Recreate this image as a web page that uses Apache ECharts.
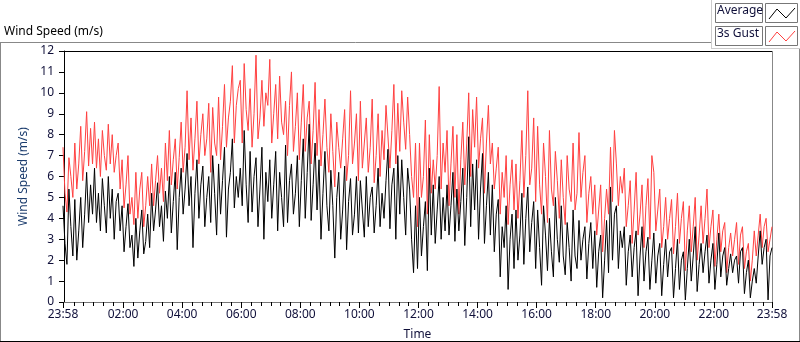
<!DOCTYPE html>
<html>
<head>
<meta charset="utf-8">
<script src="https://cdn.jsdelivr.net/npm/echarts@6/dist/echarts.min.js"></script>
<style>
html, body { margin: 0; padding: 0; background: #fff; }
#main { width: 800px; height: 342px; }
</style>
</head>
<body>
<div id="main"></div>
<script>
// wind speed, one reading every 4 min starting 23:58 (m/s)
// one row per hour
var avgWind = [
  4.6, 2.8, 1.8, 5.4, 3.6, 2.2, 4.9, 2.0, 3.4, 5.0, 2.6, 4.2, 6.2, 3.8, 5.6,
  4.2, 6.4, 3.8, 5.2, 3.4, 5.9, 4.6, 3.3, 6.0, 4.0, 5.4, 3.0, 4.8, 5.2, 3.4,
  4.6, 2.4, 3.6, 4.7, 2.6, 3.2, 1.7, 4.0, 2.1, 3.4, 4.4, 2.3, 2.9, 4.2, 2.6,
  5.2, 3.4, 4.4, 5.7, 3.6, 4.6, 2.9, 5.3, 4.0, 6.0, 3.3, 4.8, 6.2, 2.5, 5.0,
  6.4, 4.2, 5.4, 7.1, 4.6, 6.0, 2.6, 5.2, 6.8, 4.0, 5.6, 6.5, 3.6, 5.0, 6.0,
  3.8, 7.0, 5.2, 3.2, 6.6, 4.2, 5.8, 7.4, 3.1, 5.4, 6.2, 7.8, 4.5, 6.0, 5.0,
  6.4, 4.6, 8.2, 5.6, 3.8, 7.2, 4.3, 6.0, 6.9, 3.6, 5.4, 7.4, 3.0, 6.2, 4.8,
  6.8, 4.0, 5.6, 7.2, 3.4, 6.2, 5.0, 3.6, 7.5, 3.8, 5.8, 6.6, 4.2, 5.2, 7.0,
  3.6, 5.8, 7.8, 4.0, 6.2, 8.5, 3.9, 5.6, 7.6, 4.4, 6.8, 3.0, 5.2, 7.2, 4.6,
  3.4, 6.3, 4.6, 2.1, 5.0, 6.2, 3.0, 4.4, 6.5, 2.5, 4.8, 5.9, 3.2, 4.2, 6.0,
  3.3, 5.8, 4.4, 3.1, 6.0, 3.6, 5.0, 5.5, 3.3, 4.6, 6.4, 3.6, 5.2, 4.0, 5.8,
  7.3, 3.5, 5.6, 6.4, 3.0, 7.0, 4.2, 6.8, 5.0, 3.2, 6.4, 5.4, 3.0, 1.4, 4.6,
  1.6, 5.0, 2.2, 3.6, 4.8, 1.5, 6.4, 3.2, 5.6, 2.8, 4.4, 6.0, 3.0, 5.0, 3.4,
  5.6, 3.2, 4.6, 6.2, 2.9, 5.4, 3.4, 4.8, 6.4, 2.7, 5.0, 7.9, 3.6, 6.6, 4.4,
  6.8, 3.0, 5.4, 7.1, 2.8, 4.6, 6.2, 3.2, 5.6, 2.4, 4.2, 4.9, 1.2, 3.6, 2.6,
  4.6, 0.6, 3.0, 4.2, 1.6, 4.4, 2.0, 3.2, 5.2, 1.8, 4.0, 5.5, 2.4, 3.8, 4.8,
  1.6, 4.4, 2.6, 0.8, 4.6, 3.2, 1.5, 4.0, 2.4, 1.2, 5.0, 3.0, 1.9, 4.6, 2.2,
  1.3, 3.8, 2.6, 1.0, 4.4, 2.2, 1.6, 3.9, 2.0, 3.0, 3.6, 1.1, 2.8, 3.8, 1.6,
  3.4, 0.7, 2.4, 3.2, 0.2, 2.0, 3.9, 1.4, 5.5, 2.0, 4.2, 4.6, 1.6, 3.4, 2.6,
  3.6, 0.8, 2.4, 3.2, 1.2, 2.6, 3.4, 0.3, 2.2, 3.6, 1.0, 2.4, 3.1, 0.6, 2.0,
  3.3, 0.9, 2.2, 2.8, 0.3, 1.8, 3.0, 1.2, 2.4, 2.6, 0.2, 1.6, 3.0, 0.6, 2.0,
  2.4, 0.1, 1.6, 3.0, 1.0, 2.2, 3.6, 0.5, 1.8, 2.8, 1.4, 2.4, 3.2, 0.9, 2.0,
  2.8, 0.6, 1.8, 3.3, 1.2, 2.2, 2.6, 0.8, 1.6, 2.3, 1.4, 2.0, 2.2, 0.9, 2.4,
  2.6, 0.4, 1.4, 2.0, 0.2, 1.0, 1.6, 0.9, 2.2, 3.4, 1.8, 2.6, 3.0, 0.1, 2.2,
  2.6
];
var gustWind = [
  7.4, 5.2, 4.3, 6.9, 6.0, 5.0, 7.6, 5.4, 6.6, 8.4, 5.8, 7.2, 9.1, 6.5, 8.3,
  6.6, 8.6, 6.4, 7.8, 6.0, 8.2, 7.0, 6.3, 8.5, 6.6, 8.0, 6.2, 7.0, 7.6, 5.4,
  6.8, 4.5, 5.6, 7.0, 4.2, 5.0, 3.7, 6.2, 4.0, 5.4, 6.2, 3.6, 4.6, 6.0, 4.6,
  6.6, 4.6, 5.8, 7.0, 5.2, 6.4, 4.8, 7.6, 5.8, 8.2, 5.6, 6.8, 7.8, 5.4, 6.9,
  8.6, 6.2, 7.4, 10.1, 6.8, 8.8, 6.3, 7.8, 9.6, 6.6, 8.0, 9.0, 7.0, 7.8, 9.5,
  6.2, 9.3, 7.6, 7.0, 9.8, 6.8, 8.4, 10.4, 7.4, 8.8, 9.6, 11.3, 7.6, 9.4, 10.2,
  10.6, 7.6, 11.4, 9.2, 8.2, 10.2, 7.4, 9.0, 11.8, 7.8, 8.8, 10.6, 8.4, 10.0, 9.4,
  11.6, 7.6, 9.0, 10.4, 7.8, 10.8, 8.6, 8.0, 9.6, 7.0, 9.4, 11.0, 7.2, 8.4, 10.0,
  6.8, 8.6, 10.4, 7.2, 8.8, 9.6, 6.6, 8.2, 10.5, 7.0, 9.2, 6.5, 8.0, 9.7, 7.4,
  6.2, 9.0, 7.2, 5.5, 8.6, 7.4, 6.4, 7.8, 9.2, 5.8, 7.0, 10.1, 6.6, 7.6, 9.0,
  5.8, 9.6, 6.4, 7.6, 8.8, 6.2, 7.4, 9.7, 5.7, 7.0, 9.0, 6.0, 8.2, 6.8, 9.4,
  9.4, 6.4, 8.2, 10.4, 6.6, 9.5, 7.2, 10.1, 8.6, 7.3, 9.8, 8.0, 6.0, 5.0, 7.6,
  3.6, 7.6, 5.0, 6.0, 8.7, 4.2, 8.0, 5.2, 6.8, 5.4, 7.0, 10.3, 5.4, 7.6, 6.2,
  8.2, 4.6, 6.6, 8.4, 5.0, 8.0, 4.2, 6.8, 8.6, 5.6, 7.6, 10.0, 6.0, 9.2, 7.4,
  9.8, 6.4, 7.8, 8.8, 5.2, 7.6, 9.4, 6.6, 7.6, 5.4, 6.4, 7.4, 4.2, 6.2, 5.0,
  7.0, 3.7, 5.6, 6.8, 4.4, 6.6, 4.0, 5.8, 8.2, 5.0, 7.0, 10.1, 5.6, 6.4, 8.8,
  4.8, 8.4, 5.6, 4.2, 7.6, 6.0, 3.8, 8.2, 5.4, 4.6, 7.2, 5.8, 4.0, 6.8, 5.0,
  3.7, 7.0, 5.4, 4.8, 7.6, 4.4, 5.2, 8.1, 5.0, 6.2, 7.0, 3.8, 5.2, 6.0, 4.2,
  5.6, 3.2, 4.4, 5.6, 2.4, 4.0, 5.4, 4.2, 7.4, 4.8, 8.2, 6.6, 4.6, 6.0, 5.2,
  6.4, 3.6, 4.6, 5.8, 2.8, 4.4, 6.2, 3.2, 4.2, 5.6, 2.6, 4.6, 5.9, 3.0, 7.0,
  6.2, 3.4, 4.4, 5.4, 2.6, 3.6, 5.0, 3.0, 4.0, 4.9, 2.3, 3.6, 5.2, 2.8, 4.0,
  4.8, 1.5, 3.4, 4.6, 2.4, 3.6, 5.0, 2.0, 3.2, 4.6, 2.8, 4.0, 5.4, 2.6, 3.6,
  4.4, 1.7, 3.0, 4.2, 2.4, 3.4, 3.8, 1.4, 2.6, 3.3, 2.2, 3.0, 3.8, 1.8, 3.2,
  3.6, 1.6, 2.4, 2.8, 1.0, 2.0, 3.4, 2.2, 3.2, 4.2, 2.6, 3.6, 4.0, 2.4, 3.0,
  3.6
];
var startMin = -2;   // 23:58 of the previous day
var stepMin = 4;
var labelMins = [-2, 120, 240, 360, 480, 600, 720, 840, 960, 1080, 1200, 1320, 1438];

var times = [];
for (var i = 0; i < avgWind.length; i++) times.push(startMin + i * stepMin);

function pairs(vals) {
  return vals.map(function (v, i) { return [times[i], v]; });
}

var minorMins = [];
for (var m = 20; m < 1438; m += 20) {
  if (m % 120 !== 0) minorMins.push(m);
}

function fmtTime(v) {
  var t = ((v % 1440) + 1440) % 1440;
  var h = Math.floor(t / 60), mm = Math.round(t % 60);
  return (h < 10 ? '0' : '') + h + ':' + (mm < 10 ? '0' : '') + mm;
}

var FONT = 'Noto Sans';
var TXT = '#10103a';

var chartDom = document.getElementById('main');
var myChart = echarts.init(chartDom, null, { renderer: 'canvas' });
var option;

option = {
  animation: false,
  backgroundColor: '#fff',
  textStyle: { fontFamily: FONT },
  grid: { left: 63, right: 28, top: 51, bottom: 40, outerBoundsMode: 'none', containLabel: false },
  xAxis: [{
    type: 'value',
    min: -2,
    max: 1438,
    name: 'Time',
    nameLocation: 'middle',
    nameGap: 27,
    nameTextStyle: { color: TXT, fontSize: 12, fontFamily: FONT },
    axisLine: { show: true, lineStyle: { color: '#777', width: 1 } },
    axisTick: { show: true, customValues: labelMins, length: 6, lineStyle: { color: '#000' } },
    axisLabel: {
      customValues: labelMins,
      color: TXT, fontSize: 12, fontFamily: FONT, margin: 7,
      formatter: fmtTime
    },
    splitLine: { show: false }
  }, {
    type: 'value',
    min: -2,
    max: 1438,
    position: 'bottom',
    axisLine: { show: false },
    axisTick: { show: true, customValues: minorMins, length: 4, lineStyle: { color: '#000' } },
    axisLabel: { show: false },
    splitLine: { show: false }
  }],
  yAxis: {
    type: 'value',
    min: 0,
    max: 12,
    interval: 1,
    name: 'Wind Speed (m/s)',
    nameLocation: 'middle',
    nameGap: 23,
    nameRotate: 90,
    nameTextStyle: { color: '#1c3d6e', fontSize: 12, fontFamily: FONT },
    axisLine: { show: true, lineStyle: { color: '#000', width: 1 } },
    axisTick: { show: true, length: 5, lineStyle: { color: '#000' } },
    axisLabel: { color: TXT, fontSize: 12, fontFamily: FONT, margin: 9 },
    splitLine: { show: false }
  },
  series: [{
    name: '3s Gust',
    type: 'line',
    showSymbol: false,
    symbol: 'none',
    lineStyle: { color: '#ff4040', width: 1 },
    data: pairs(gustWind),
    z: 2
  }, {
    name: 'Average',
    type: 'line',
    showSymbol: false,
    symbol: 'none',
    lineStyle: { color: '#000', width: 1 },
    data: pairs(avgWind),
    z: 3
  }],
  graphic: [
    // outer frame
    { type: 'line', shape: { x1: 0, y1: 42.5, x2: 711, y2: 42.5 }, style: { stroke: '#888', lineWidth: 1 } },
    { type: 'line', shape: { x1: 0.5, y1: 42, x2: 0.5, y2: 342 }, style: { stroke: '#888', lineWidth: 1 } },
    { type: 'line', shape: { x1: 799.5, y1: 48, x2: 799.5, y2: 342 }, style: { stroke: '#888', lineWidth: 1 } },
    { type: 'line', shape: { x1: 0, y1: 341.5, x2: 800, y2: 341.5 }, style: { stroke: '#000', lineWidth: 1 } },
    // legend panel
    { type: 'line', shape: { x1: 711.5, y1: 0, x2: 711.5, y2: 48 }, style: { stroke: '#ccc', lineWidth: 1 } },
    { type: 'line', shape: { x1: 711, y1: 48.5, x2: 800, y2: 48.5 }, style: { stroke: '#ccc', lineWidth: 1 } },
    // plot frame top/right
    { type: 'line', shape: { x1: 63, y1: 51.5, x2: 773, y2: 51.5 }, style: { stroke: '#000', lineWidth: 1 } },
    { type: 'line', shape: { x1: 772.5, y1: 51, x2: 772.5, y2: 303 }, style: { stroke: '#888', lineWidth: 1 } },
    // chart title
    { type: 'text', left: 4, top: 26, style: { text: 'Wind Speed (m/s)', fill: '#000', font: '12px "Noto Sans"' } },
    // legend boxes
    { type: 'rect', shape: { x: 715.5, y: 3.5, width: 47, height: 19 }, style: { fill: '#fff', stroke: '#777', lineWidth: 1 } },
    { type: 'rect', shape: { x: 765.5, y: 3.5, width: 32, height: 19 }, style: { fill: '#fff', stroke: '#777', lineWidth: 1 } },
    { type: 'rect', shape: { x: 715.5, y: 26.5, width: 47, height: 19 }, style: { fill: '#fff', stroke: '#777', lineWidth: 1 } },
    { type: 'rect', shape: { x: 765.5, y: 26.5, width: 32, height: 19 }, style: { fill: '#fff', stroke: '#777', lineWidth: 1 } },
    { type: 'text', left: 717, top: 5, style: { text: 'Average', fill: TXT, font: '12px "Noto Sans"' } },
    { type: 'text', left: 717, top: 28, style: { text: '3s Gust', fill: TXT, font: '12px "Noto Sans"' } },
    { type: 'polyline', shape: { points: [[769, 19], [777, 9], [786, 18], [795, 8]] }, style: { stroke: '#000', lineWidth: 1, fill: null } },
    { type: 'polyline', shape: { points: [[769, 42], [777, 32], [786, 41], [795, 31]] }, style: { stroke: '#ff4040', lineWidth: 1, fill: null } }
  ]
};

option && myChart.setOption(option);
</script>
</body>
</html>
